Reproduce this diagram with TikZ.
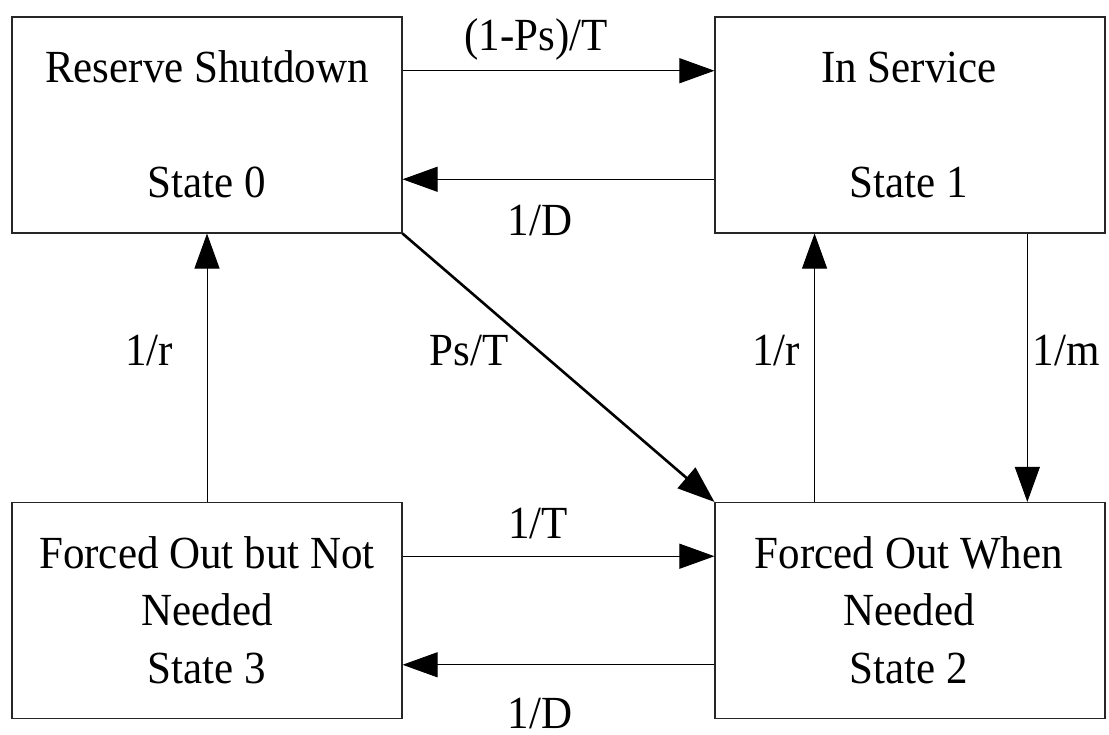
\documentclass[tikz,border=0pt]{standalone}
\usepackage{fontspec}
\usepackage{graphicx}
\setmainfont{Liberation Serif}
\usetikzlibrary{arrows.meta,calc}
\newcommand{\stt}[1]{\scalebox{1}[1.07]{#1}}
\tikzset{
  statebox/.style={draw=black!85, line width=1.1pt, rectangle, minimum width=390pt, minimum height=216pt, inner sep=0pt},
  txt/.style={font=\fontsize{43}{50}\selectfont, anchor=base, inner sep=0pt},
  conn/.style={line width=1pt, -{Triangle[length=35pt,width=25pt]}},
  thickconn/.style={line width=2.6pt, -{Triangle[length=37pt,width=27pt]}},
}
\begin{document}
\begin{tikzpicture}[x=1pt,y=-1pt]
\useasboundingbox (0,0) rectangle (1109,734);
% boxes
\node[statebox] (b0) at (207,125) {};
\node[statebox] (b1) at (910,125) {};
\node[statebox] (b3) at (207,610.5) {};
\node[statebox] (b2) at (910,610.5) {};
% box texts
\node[txt] (t0a) at (207,82) {\stt{Reserve Shutdown}};
\node[txt] (t0b) at (207,197) {\stt{State 0}};
\node[txt] (t1a) at (909,82) {\stt{In Service}};
\node[txt] (t1b) at (909,197) {\stt{State 1}};
\node[txt] (t3a) at (207,568) {\stt{Forced Out but Not}};
\node[txt] (t3b) at (207,625) {\stt{Needed}};
\node[txt] (t3c) at (207,683) {\stt{State 3}};
\node[txt] (t2a) at (909,568) {\stt{Forced Out When}};
\node[txt] (t2b) at (909,625) {\stt{Needed}};
\node[txt] (t2c) at (909,683) {\stt{State 2}};
% connectors
\draw[conn] ($(b0.north east)!0.25!(b0.south east)$) -- ($(b1.north west)!0.25!(b1.south west)$);
\draw[conn] ($(b1.north west)!0.75!(b1.south west)$) -- ($(b0.north east)!0.75!(b0.south east)$);
\draw[thickconn] (b0.south east) -- (b2.north west);
\draw[conn] (b3.north) -- (b0.south);
\draw[conn] ($(b2.north west)!0.256!(b2.north east)$) -- ($(b1.south west)!0.256!(b1.south east)$);
\draw[conn] ($(b1.south west)!0.80!(b1.south east)$) -- ($(b2.north west)!0.80!(b2.north east)$);
\draw[conn] ($(b3.north east)!0.25!(b3.south east)$) -- ($(b2.north west)!0.25!(b2.south west)$);
\draw[conn] ($(b2.north west)!0.75!(b2.south west)$) -- ($(b3.north east)!0.75!(b3.south east)$);
% labels
\node[txt] (l01) at (536,50) {\stt{(1-Ps)/T}};
\node[txt] (l10) at (540,235) {\stt{1/D}};
\node[txt] (l30) at (149,365) {\stt{1/r}};
\node[txt] (l02) at (469,365) {\stt{Ps/T}};
\node[txt] (l21) at (776,365) {\stt{1/r}};
\node[txt] (l12) at (1066,365) {\stt{1/m}};
\node[txt] (l32) at (538,538) {\stt{1/T}};
\node[txt] (l23) at (540,728) {\stt{1/D}};
\end{tikzpicture}
\end{document}
